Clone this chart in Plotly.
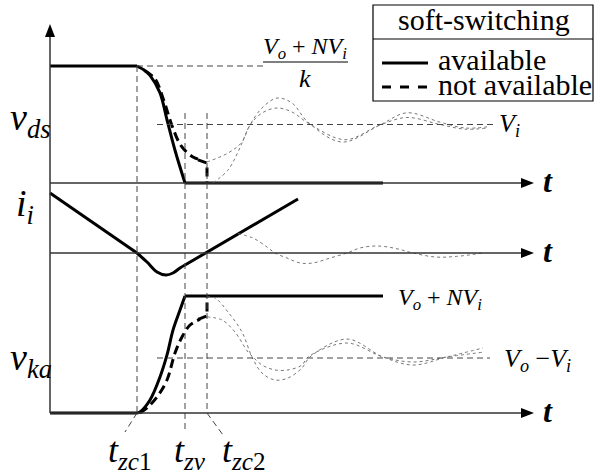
import plotly.graph_objects as go

W, H = 594, 475
X0, PX_T = 50, 100      # pixel of t = 0 and pixels per time unit
PX_V = 117              # pixels per unit on each of the three panels
BASE_VDS, BASE_II, BASE_VKA = 183, 253, 413   # pixel rows of the three t-axes

# switching instants
t_zc1, t_zv, t_zc2 = 0.87, 1.35, 1.57

# reference levels
vds_top = 1.0
vi_level = 0.5
vka_top = 1.0
vo_minus_vi = 0.47

# ---- v_ds ----
vds_hi_t = [0.0, 0.87]
vds_hi_v = [1.0, 1.0]
vds_fall_t = [0.87, 0.95, 1.00, 1.10, 1.17, 1.25, 1.35]
vds_fall_v = [1.0, 0.96, 0.92, 0.77, 0.54, 0.28, 0.0]
vds_lo_t = [1.35, 3.33]
vds_lo_v = [0.0, 0.0]
# not available (dashed)
vds_na_t = [0.95, 1.05, 1.14, 1.22, 1.31, 1.43, 1.51]
vds_na_v = [0.96, 0.89, 0.70, 0.49, 0.32, 0.222, 0.197]
vds_na_end_t = [1.48, 1.57, 1.57]
vds_na_end_v = [0.197, 0.17, 0.0]
# ringing (dotted)
vds_ring1_t = [1.57, 1.78, 1.92, 2.00, 2.12, 2.27, 2.42, 2.58, 2.95, 3.30, 3.57, 3.90, 4.15, 4.37]
vds_ring1_v = [0.18, 0.256, 0.35, 0.496, 0.598, 0.641, 0.607, 0.513, 0.37, 0.496, 0.56, 0.50, 0.46, 0.47]
vds_ring2_t = [1.63, 1.78, 1.88, 2.00, 2.12, 2.27, 2.42, 2.58, 2.92, 3.30, 3.57, 3.90, 4.15, 4.37]
vds_ring2_v = [0.0, 0.111, 0.265, 0.496, 0.641, 0.726, 0.684, 0.52, 0.35, 0.496, 0.60, 0.52, 0.47, 0.48]

# ---- i_i ----
ii_fall_t = [0.0, 0.87]
ii_fall_v = [0.513, 0.0]
ii_dip_t = [0.87, 0.97, 1.07, 1.16, 1.23, 1.30, 1.35]
ii_dip_v = [0.0, -0.077, -0.162, -0.188, -0.171, -0.128, -0.103]
ii_rise_t = [1.35, 2.48]
ii_rise_v = [-0.103, 0.462]
ii_ring_t = [1.88, 2.03, 2.17, 2.25, 2.37, 2.50, 2.63, 2.80, 2.97, 3.10, 3.27, 3.45, 3.63, 3.85, 4.05, 4.33]
ii_ring_v = [0.165, 0.128, 0.051, 0.0, -0.043, -0.085, -0.085, -0.043, 0.0, 0.043, 0.06, 0.04, 0.0, -0.034, -0.03, 0.0]

# ---- v_ka ----
vka_lo_t = [0.0, 0.87]
vka_lo_v = [0.0, 0.0]
vka_rise_t = [0.87, 0.90, 1.00, 1.10, 1.17, 1.23, 1.30, 1.35]
vka_rise_v = [0.0, 0.009, 0.111, 0.308, 0.496, 0.709, 0.88, 1.0]
vka_hi_t = [1.35, 3.33]
vka_hi_v = [1.0, 1.0]
vka_na_t = [0.90, 0.97, 1.07, 1.17, 1.25, 1.32, 1.40, 1.50]
vka_na_v = [0.0, 0.043, 0.137, 0.282, 0.513, 0.65, 0.752, 0.80]
vka_na_end_t = [1.48, 1.57, 1.57]
vka_na_end_v = [0.80, 0.83, 1.0]
vka_ring1_t = [1.57, 1.65, 1.78, 1.92, 2.02, 2.12, 2.25, 2.38, 2.52, 2.60, 2.97, 3.33, 3.63, 3.97, 4.33]
vka_ring1_v = [0.99, 0.983, 0.863, 0.692, 0.479, 0.342, 0.282, 0.299, 0.385, 0.479, 0.632, 0.479, 0.41, 0.479, 0.556]
vka_ring2_t = [1.57, 1.72, 1.85, 1.98, 2.03, 2.12, 2.25, 2.38, 2.52, 2.58, 2.97, 3.33, 3.63, 3.97, 4.33]
vka_ring2_v = [0.821, 0.795, 0.692, 0.521, 0.479, 0.41, 0.368, 0.368, 0.41, 0.479, 0.598, 0.479, 0.436, 0.479, 0.52]

FONT = "Times New Roman, Liberation Serif, DejaVu Serif, serif"

fig = go.Figure()


def curve(t, v, axis, width=3, dash="solid", color="black", shape="spline"):
    fig.add_trace(go.Scatter(x=t, y=v, yaxis=axis, mode="lines", hoverinfo="skip",
                             showlegend=False,
                             line=dict(color=color, width=width, dash=dash, shape=shape)))


RING = dict(width=1, dash="dot", color="#777777")
NA = dict(width=3, dash="9px,5px")

# v_ds
curve(vds_hi_t, vds_hi_v, "y", shape="linear")
curve(vds_fall_t, vds_fall_v, "y")
curve(vds_lo_t, vds_lo_v, "y", shape="linear")
curve(vds_na_t, vds_na_v, "y", **NA)
curve(vds_na_end_t, vds_na_end_v, "y", shape="linear", **NA)
curve(vds_ring1_t, vds_ring1_v, "y", **RING)
curve(vds_ring2_t, vds_ring2_v, "y", **RING)
# i_i
curve(ii_fall_t, ii_fall_v, "y2", shape="linear")
curve(ii_dip_t, ii_dip_v, "y2")
curve(ii_rise_t, ii_rise_v, "y2", shape="linear")
curve(ii_ring_t, ii_ring_v, "y2", **RING)
# v_ka
curve(vka_lo_t, vka_lo_v, "y3", shape="linear")
curve(vka_rise_t, vka_rise_v, "y3")
curve(vka_hi_t, vka_hi_v, "y3", shape="linear")
curve(vka_na_t, vka_na_v, "y3", **NA)
curve(vka_na_end_t, vka_na_end_v, "y3", shape="linear", **NA)
curve(vka_ring1_t, vka_ring1_v, "y3", **RING)
curve(vka_ring2_t, vka_ring2_v, "y3", **RING)


def px(x):
    return x / W


def py(y):
    return 1 - y / H


shapes = []
GUIDE = dict(color="#444444", width=1, dash="6px,4px")
AXIS = dict(color="#333333", width=1.5)

# horizontal guides
shapes.append(dict(type="line", xref="x", yref="y", x0=t_zc1, x1=2.13, y0=vds_top, y1=vds_top, line=GUIDE))
shapes.append(dict(type="line", xref="x", yref="y", x0=1.07, x1=4.43, y0=vi_level, y1=vi_level, line=GUIDE))
shapes.append(dict(type="line", xref="x", yref="y3", x0=1.07, x1=4.40, y0=vo_minus_vi, y1=vo_minus_vi, line=GUIDE))
# vertical guides at the switching instants
shapes.append(dict(type="line", xref="x", yref="paper", x0=t_zc1, x1=t_zc1, y0=py(66), y1=py(BASE_VKA), line=GUIDE))
shapes.append(dict(type="line", xref="x", yref="paper", x0=t_zc1, x1=t_zc1 - 0.12, y0=py(BASE_VKA), y1=py(432), line=GUIDE))
shapes.append(dict(type="line", xref="x", yref="paper", x0=t_zv, x1=t_zv, y0=py(113), y1=py(433), line=GUIDE))
shapes.append(dict(type="line", xref="x", yref="paper", x0=t_zc2, x1=t_zc2, y0=py(113), y1=py(BASE_VKA), line=GUIDE))
shapes.append(dict(type="line", xref="x", yref="paper", x0=t_zc2, x1=t_zc2 + 0.16, y0=py(BASE_VKA), y1=py(435), line=GUIDE))

# axes with arrow heads
shapes.append(dict(type="line", xref="paper", yref="paper", x0=px(X0), x1=px(X0), y0=py(BASE_VKA), y1=py(34), line=AXIS))
shapes.append(dict(type="path", xref="paper", yref="paper", fillcolor="black", line=dict(width=0),
                   path=f"M {px(X0)} {py(24)} L {px(X0 - 5)} {py(37)} L {px(X0 + 5)} {py(37)} Z"))
for b in (BASE_VDS, BASE_II, BASE_VKA):
    shapes.append(dict(type="line", xref="paper", yref="paper", x0=px(X0), x1=px(523), y0=py(b), y1=py(b), line=AXIS))
    shapes.append(dict(type="path", xref="paper", yref="paper", fillcolor="black", line=dict(width=0),
                       path=f"M {px(534)} {py(b)} L {px(521)} {py(b - 5)} L {px(521)} {py(b + 5)} Z"))

# fraction bar
shapes.append(dict(type="line", xref="paper", yref="paper", x0=px(263), x1=px(348), y0=py(62), y1=py(62),
                   line=dict(color="black", width=1)))

# legend box
shapes.append(dict(type="rect", xref="paper", yref="paper", x0=px(373), x1=px(593), y0=py(5), y1=py(101),
                   line=dict(color="black", width=1.2)))
shapes.append(dict(type="line", xref="paper", yref="paper", x0=px(373), x1=px(593), y0=py(39), y1=py(39),
                   line=dict(color="black", width=1.2)))
shapes.append(dict(type="line", xref="paper", yref="paper", x0=px(382), x1=px(428), y0=py(63), y1=py(63),
                   line=dict(color="black", width=3)))
shapes.append(dict(type="line", xref="paper", yref="paper", x0=px(382), x1=px(428), y0=py(87), y1=py(87),
                   line=dict(color="black", width=3, dash="9px,9px")))

annotations = []


def label(text, x, y, size, xanchor="center"):
    annotations.append(dict(text=text, x=px(x), y=py(y), xref="paper", yref="paper", showarrow=False,
                            xanchor=xanchor, yanchor="middle",
                            font=dict(family=FONT, size=size, color="black")))


# panel names
label("<i>v</i><sub><i>ds</i></sub>", 8, 120, 38, "left")
label("<i>i</i><sub><i>i</i></sub>", 14, 206, 38, "left")
label("<i>v</i><sub><i>ka</i></sub>", 8, 360, 38, "left")
# time axes
for b in (BASE_VDS, BASE_II, BASE_VKA):
    label("<b><i>t</i></b>", 541, b - 2, 32, "left")
# levels
label("<i>V</i><sub><i>o</i></sub> + <i>NV</i><sub><i>i</i></sub>", 305, 48, 24)
label("<i>k</i>", 305, 79, 26)
label("<i>V</i><sub><i>i</i></sub>", 497, 125, 26, "left")
label("<i>V</i><sub><i>o</i></sub> + <i>NV</i><sub><i>i</i></sub>", 396, 299, 24, "left")
label("<i>V</i><sub><i>o</i></sub> \u2212<i>V</i><sub><i>i</i></sub>", 502, 360, 26, "left")
# switching instants
label("<i>t</i><sub><i>zc</i>1</sub>", 106, 452, 36, "left")
label("<i>t</i><sub><i>zv</i></sub>", 172, 452, 36, "left")
label("<i>t</i><sub><i>zc</i>2</sub>", 220, 452, 36, "left")
# legend text
label("soft-switching", 484, 19, 30)
label("available", 436, 60, 30, "left")
label("not available", 436, 84, 30, "left")


def yrange(base):
    return [(base - H) / PX_V, base / PX_V]


hidden = dict(visible=False, showgrid=False, zeroline=False, fixedrange=True)
fig.update_layout(
    width=W, height=H,
    margin=dict(l=0, r=0, t=0, b=0),
    paper_bgcolor="white", plot_bgcolor="white",
    xaxis=dict(range=[-X0 / PX_T, (W - X0) / PX_T], **hidden),
    yaxis=dict(range=yrange(BASE_VDS), domain=[0, 1], **hidden),
    yaxis2=dict(range=yrange(BASE_II), overlaying="y", **hidden),
    yaxis3=dict(range=yrange(BASE_VKA), overlaying="y", **hidden),
    shapes=shapes,
    annotations=annotations,
    showlegend=False,
)

# the page body has a default 8px margin; drop it so the figure fills the window
fig.write_html("out.html", config={"displayModeBar": False},
               post_script="document.body.style.margin='0';")
